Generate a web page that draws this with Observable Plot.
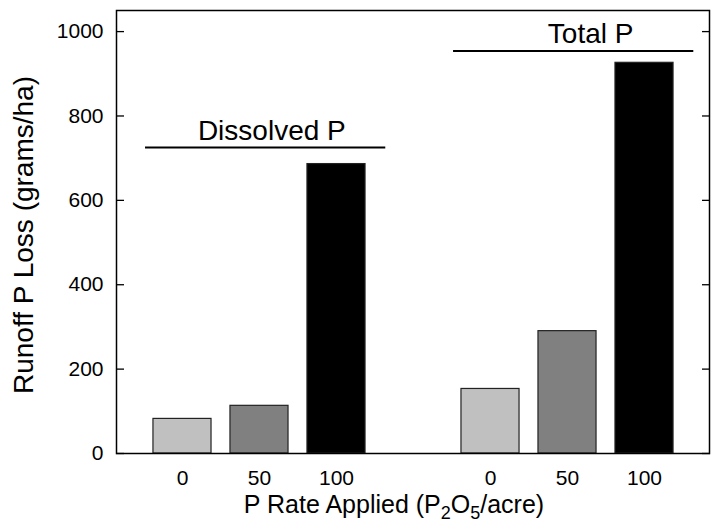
<!DOCTYPE html>
<html>
<head>
<meta charset="utf-8">
<script src="https://cdn.jsdelivr.net/npm/d3@7"></script>
<script src="https://cdn.jsdelivr.net/npm/@observablehq/plot@0.6"></script>
<style>
  html, body { margin: 0; padding: 0; background: #fff; }
</style>
</head>
<body>
<div id="chart"></div>
<script>
// ---- data ----
const rates = ["0", "50", "100"];
const dissolvedP = [82, 113, 686];
const totalP = [153, 290, 926];
const groupNames = ["Dissolved P", "Total P"];
const groupLabelLevel = [725, 954];
const yTicks = [0, 200, 400, 600, 800, 1000];
const yLabel = "Runoff P Loss (grams/ha)";
const xLabel = "P Rate Applied (P2O5/acre)";

// ---- build table ----
const series = [dissolvedP, totalP];
const bars = [];
series.forEach((vals, g) => {
  vals.forEach((v, i) => {
    bars.push({group: groupNames[g], rate: rates[i], rateIndex: i, slot: g * 4 + i, value: v});
  });
});
const groups = groupNames.map((name, g) => ({
  name, level: groupLabelLevel[g], first: g * 4, last: g * 4 + rates.length - 1
}));

const half = 0.377;
const fills = ["#c0c0c0", "#808080", "#000000"];
const font = "'Liberation Sans', Arial, Helvetica, sans-serif";

const chart = Plot.plot({
  width: 712,
  height: 522,
  marginLeft: 116,
  marginTop: 10,
  marginRight: 3,
  marginBottom: 69,
  style: {fontFamily: font, fontSize: "21px", color: "#000", background: "#fff"},
  x: {type: "linear", domain: [-0.857, 6.844], axis: null},
  y: {domain: [0, 1050], axis: null},
  color: {type: "ordinal", domain: rates, range: fills},
  marks: [
    Plot.rectY(bars, {
      x1: d => d.slot - half, x2: d => d.slot + half,
      y1: 0, y2: "value",
      fill: "rate", stroke: "#222", strokeWidth: 1.2
    }),
    Plot.frame({stroke: "#000", strokeWidth: 1.5}),
    Plot.axisY({ticks: yTicks, anchor: "left", tickSize: -8, tickPadding: 21, tickFormat: d => String(d), label: null, fontSize: 21, strokeWidth: 1.3}),
    Plot.axisY({ticks: yTicks, anchor: "right", tickSize: -8, tickFormat: () => "", label: null, strokeWidth: 1.3}),
    Plot.axisX({ticks: bars.map(d => d.slot), tickFormat: s => bars.find(b => b.slot === s).rate,
      tickSize: 0, tickPadding: 17, label: null, fontSize: 21}),
    Plot.ruleY(groups, {y: "level", x1: d => d.first - 0.48, x2: d => d.last + 0.64, stroke: "#000", strokeWidth: 2}),
    Plot.text(groups, {
      x: d => (d.first + d.last) / 2 + (d.first === 0 ? 0.16 : 0.3),
      y: "level", text: "name", fontSize: 28, textAnchor: "middle", lineAnchor: "bottom", dy: -8
    }),
    Plot.text([yLabel], {text: d => d, frameAnchor: "left", rotate: -90, dx: -92, dy: 3, fontSize: 28, textAnchor: "middle", lineAnchor: "middle"}),
    Plot.text([xLabel], {text: d => d, frameAnchor: "bottom", dx: -19, dy: 51, fontSize: 25, textAnchor: "middle", lineAnchor: "middle"})
  ]
});

document.getElementById("chart").appendChild(chart);

// Render subscripts in the x-axis label (P2O5)
d3.select(chart).selectAll("text").each(function () {
  if (this.textContent === xLabel) {
    const t = d3.select(this);
    t.text(null);
    const parts = [["P Rate Applied (P", false], ["2", true], ["O", false], ["5", true], ["/acre)", false]];
    let prevSub = false;
    parts.forEach(([s, sub]) => {
      const sp = t.append("tspan").text(s);
      if (sub && !prevSub) sp.attr("dy", 6).attr("font-size", 18);
      else if (!sub && prevSub) sp.attr("dy", -6);
      else if (sub) sp.attr("font-size", 18);
      prevSub = sub;
    });
  }
});
</script>
</body>
</html>
